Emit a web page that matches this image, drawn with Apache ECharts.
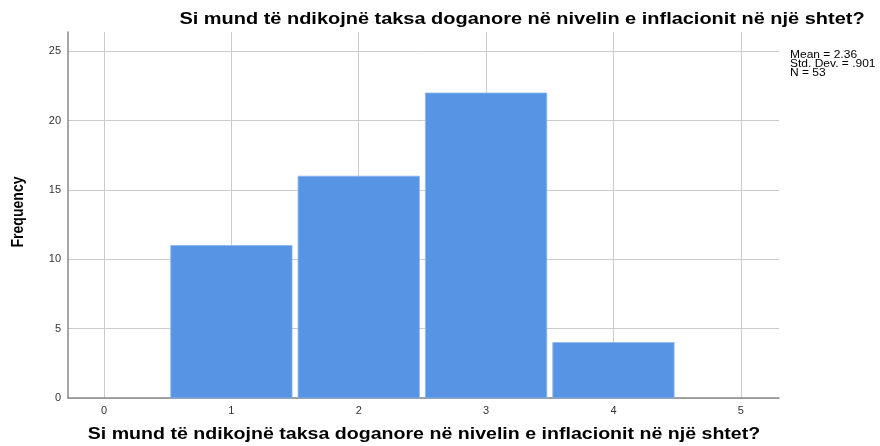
<!DOCTYPE html>
<html><head><meta charset="utf-8">
<script src="https://cdn.jsdelivr.net/npm/echarts@6/dist/echarts.min.js"></script>
<style>html,body{margin:0;padding:0;background:#fff}#c{width:880px;height:446px}</style>
</head><body><div id="c"></div>
<script>
const titleText = "Si mund të ndikojnë taksa doganore në nivelin e inflacionit në një shtet?";
const yAxisTitle = "Frequency";
const categories = [1, 2, 3, 4];
const frequencies = [11, 16, 22, 4];
const xTicks = [0, 1, 2, 3, 4, 5];
const yTicks = [0, 5, 10, 15, 20, 25];
const statsLines = ["Mean = 2.36", "Std. Dev. = .901", "N = 53"];

const chart = echarts.init(document.getElementById('c'));
const data = categories.map((c, i) => [c, frequencies[i]]);
const boldFont = 'bold 16px "Liberation Sans", Arial, sans-serif';
chart.setOption({
  animation: false,
  grid: { left: 68, right: 101, top: 32, bottom: 48, outerBoundsMode: 'none', containLabel: false },
  xAxis: {
    type: 'value', min: -0.283, max: 5.3,
    axisLine: { show: true, onZero: false, lineStyle: { color: '#888', width: 1.5 } },
    axisTick: { show: false, customValues: xTicks },
    axisLabel: { customValues: xTicks, margin: 7, fontFamily: 'Liberation Sans', fontSize: 11, color: '#333' },
    splitLine: { show: true, lineStyle: { color: '#cccccc', width: 1 } }
  },
  yAxis: {
    type: 'value', min: 0, max: 26.4,
    axisLine: { show: true, onZero: false, lineStyle: { color: '#888', width: 1.5 } },
    axisTick: { show: false, customValues: yTicks },
    axisLabel: { customValues: yTicks, margin: 7, fontFamily: 'Liberation Sans', fontSize: 11, color: '#333' },
    splitLine: { show: true, lineStyle: { color: '#cccccc', width: 1 } }
  },
  graphic: [
    { type: 'text', x: 522, y: 19.5, scaleX: 1.247,
      style: { text: titleText, font: boldFont, fill: '#000', align: 'center', verticalAlign: 'middle' } },
    { type: 'text', x: 424, y: 435, scaleX: 1.224,
      style: { text: titleText, font: boldFont, fill: '#000', align: 'center', verticalAlign: 'middle' } },
    { type: 'text', x: 19, y: 212, rotation: Math.PI / 2, scaleX: 0.88,
      style: { text: yAxisTitle, font: 'bold 16px "Liberation Sans", Arial, sans-serif', fill: '#000', align: 'center', verticalAlign: 'middle' } },
    { type: 'text', x: 790, y: 51, scaleX: 1.2,
      style: { text: statsLines.join('\n'), font: '10px "Liberation Sans"', lineHeight: 9, fill: '#000', align: 'left', verticalAlign: 'top' } }
  ],
  series: [{
    type: 'custom',
    data: data,
    renderItem: function (params, api) {
      const x = api.value(0), y = api.value(1);
      const p0 = api.coord([x - 0.5, y]);
      const p1 = api.coord([x + 0.5, 0]);
      const inset = 3;
      return {
        type: 'rect',
        shape: { x: p0[0] + inset, y: p0[1], width: p1[0] - p0[0] - 2 * inset, height: p1[1] - p0[1] },
        style: { fill: '#5795e4', stroke: '#8bb6ee', lineWidth: 0.8 }
      };
    }
  }]
});
</script></body></html>
